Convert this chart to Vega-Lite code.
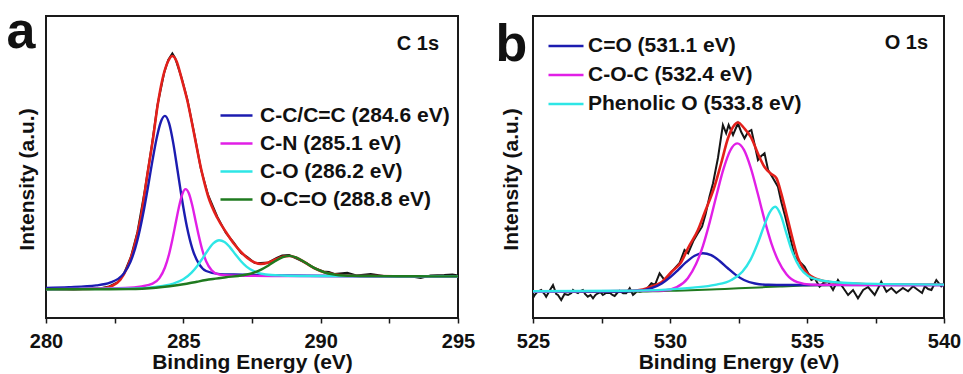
{
  "$schema": "https://vega.github.io/schema/vega-lite/v6.json",
  "background": "white",
  "padding": {"left": 5, "top": 5, "right": 10, "bottom": 5},
  "bounds": "flush",
  "spacing": 75,
  "datasets": {
    "a_raw": [
      {"E":280,"I":28.5},{"E":280.5,"I":29},{"E":281,"I":28.6},{"E":281.5,"I":29.2},{"E":282,"I":29.8},{"E":282.3,"I":31.5},{"E":282.6,"I":35.5},{"E":282.85,"I":45},{"E":283.09,"I":61},{"E":283.33,"I":86},{"E":283.6,"I":128},{"E":283.85,"I":172},{"E":284.06,"I":213},{"E":284.3,"I":245},{"E":284.45,"I":258},{"E":284.6,"I":264.5},{"E":284.7,"I":260},{"E":284.95,"I":239},{"E":285.15,"I":218},{"E":285.4,"I":184},{"E":285.64,"I":149},{"E":285.9,"I":123},{"E":286.24,"I":101},{"E":286.55,"I":85},{"E":286.85,"I":75},{"E":287.1,"I":65},{"E":287.33,"I":61},{"E":287.6,"I":55},{"E":287.82,"I":55},{"E":288.1,"I":55.5},{"E":288.4,"I":60},{"E":288.6,"I":62.5},{"E":288.85,"I":63},{"E":289.2,"I":58.5},{"E":289.5,"I":54.5},{"E":289.76,"I":50},{"E":290.1,"I":46.5},{"E":290.3,"I":46},{"E":290.5,"I":44},{"E":290.97,"I":45.3},{"E":291.3,"I":42.5},{"E":291.82,"I":44},{"E":292.3,"I":42},{"E":292.8,"I":41.5},{"E":293.2,"I":42},{"E":293.64,"I":40},{"E":294,"I":42.5},{"E":294.5,"I":43},{"E":294.8,"I":43.5},{"E":295,"I":42.5}
    ],
    "a_fit": [
      {"E":280,"I":28.7},{"E":281,"I":28.8},{"E":282,"I":29.5},{"E":282.4,"I":32},{"E":282.7,"I":38},{"E":282.95,"I":50},{"E":283.2,"I":70},{"E":283.45,"I":100},{"E":283.7,"I":145},{"E":283.9,"I":180},{"E":284.06,"I":212},{"E":284.25,"I":240},{"E":284.45,"I":257},{"E":284.6,"I":262},{"E":284.75,"I":257},{"E":284.95,"I":238},{"E":285.15,"I":217},{"E":285.4,"I":183},{"E":285.64,"I":150},{"E":285.9,"I":122},{"E":286.24,"I":100},{"E":286.55,"I":86},{"E":286.85,"I":74},{"E":287.1,"I":66},{"E":287.33,"I":60},{"E":287.6,"I":55.5},{"E":287.82,"I":54},{"E":288.1,"I":55.5},{"E":288.4,"I":59},{"E":288.65,"I":61.5},{"E":288.85,"I":62},{"E":289.1,"I":60.5},{"E":289.4,"I":56},{"E":289.76,"I":50},{"E":290.1,"I":46},{"E":290.48,"I":43.7},{"E":291,"I":42.5},{"E":292,"I":41.9},{"E":293,"I":41.7},{"E":294,"I":41.7},{"E":295,"I":41.8}
    ],
    "a_c1": [
      {"E":280,"I":30.1},{"E":280.83,"I":30.8},{"E":281.83,"I":32.6},{"E":282.33,"I":35.3},{"E":282.83,"I":44.4},{"E":283.08,"I":56.4},{"E":283.33,"I":78},{"E":283.53,"I":103.2},{"E":283.73,"I":133.8},{"E":283.88,"I":158.1},{"E":284.03,"I":180},{"E":284.18,"I":196},{"E":284.33,"I":202.1},{"E":284.48,"I":194.8},{"E":284.63,"I":175.4},{"E":284.78,"I":149.3},{"E":284.93,"I":122.2},{"E":285.13,"I":91.2},{"E":285.33,"I":69.1},{"E":285.58,"I":53.6},{"E":285.83,"I":47},{"E":286.33,"I":43.9},{"E":286.83,"I":43.5},{"E":287.83,"I":42.9},{"E":289.5,"I":42.2},{"E":292,"I":41.8},{"E":295,"I":41.7}
    ],
    "a_c2": [
      {"E":280,"I":28.9},{"E":282.88,"I":30.1},{"E":283.48,"I":31.6},{"E":283.88,"I":34.3},{"E":284.13,"I":39.9},{"E":284.33,"I":50.5},{"E":284.48,"I":63.8},{"E":284.6,"I":78.3},{"E":284.72,"I":94.7},{"E":284.84,"I":111.1},{"E":284.96,"I":123.7},{"E":285.08,"I":128.9},{"E":285.2,"I":124.8},{"E":285.32,"I":113.2},{"E":285.44,"I":97.8},{"E":285.56,"I":82.5},{"E":285.68,"I":69},{"E":285.83,"I":56.8},{"E":286.03,"I":47.8},{"E":286.28,"I":43.7},{"E":286.68,"I":42.5},{"E":287.28,"I":42.2},{"E":289,"I":42},{"E":295,"I":41.6}
    ],
    "a_c3": [
      {"E":280,"I":28.8},{"E":283.1,"I":29.4},{"E":284,"I":31.1},{"E":284.6,"I":34.1},{"E":285,"I":38.7},{"E":285.3,"I":45.4},{"E":285.5,"I":51.8},{"E":285.7,"I":59.7},{"E":285.9,"I":68},{"E":286.1,"I":74.8},{"E":286.3,"I":77.8},{"E":286.5,"I":76.1},{"E":286.7,"I":70.6},{"E":286.9,"I":63.5},{"E":287.1,"I":56.8},{"E":287.3,"I":51.4},{"E":287.6,"I":46.3},{"E":288,"I":43.5},{"E":288.6,"I":42.5},{"E":289.5,"I":42},{"E":295,"I":41.6}
    ],
    "a_c4": [
      {"E":280,"I":28.7},{"E":282,"I":28.7},{"E":283,"I":28.9},{"E":283.5,"I":29.3},{"E":284,"I":30.2},{"E":284.5,"I":31.7},{"E":285,"I":33.7},{"E":285.5,"I":36.3},{"E":286,"I":38.7},{"E":286.55,"I":40.7},{"E":287.15,"I":42.7},{"E":287.55,"I":45.2},{"E":287.85,"I":48.7},{"E":288.1,"I":52.5},{"E":288.35,"I":57},{"E":288.6,"I":60.6},{"E":288.85,"I":62.1},{"E":289.1,"I":60.6},{"E":289.35,"I":57},{"E":289.6,"I":52.6},{"E":289.85,"I":48.8},{"E":290.15,"I":45.5},{"E":290.55,"I":43.3},{"E":291.15,"I":42.2},{"E":292.05,"I":41.9},{"E":293.5,"I":41.7},{"E":295,"I":41.6}
    ],
    "b_raw": [
      {"E":525,"I":20},{"E":525.06,"I":23},{"E":525.15,"I":26},{"E":525.3,"I":28},{"E":525.42,"I":24},{"E":525.48,"I":21.3},{"E":525.6,"I":27},{"E":525.73,"I":33},{"E":525.85,"I":24},{"E":525.91,"I":23},{"E":526.03,"I":18},{"E":526.15,"I":24},{"E":526.28,"I":23},{"E":526.4,"I":25},{"E":526.46,"I":28},{"E":526.55,"I":26},{"E":526.64,"I":25},{"E":526.73,"I":27},{"E":526.82,"I":28},{"E":526.9,"I":24},{"E":527,"I":21.3},{"E":527.1,"I":23},{"E":527.19,"I":19.7},{"E":527.28,"I":23},{"E":527.37,"I":24.7},{"E":527.46,"I":26},{"E":527.55,"I":23},{"E":527.67,"I":25},{"E":527.8,"I":25.3},{"E":527.9,"I":23},{"E":527.98,"I":22},{"E":528.07,"I":25},{"E":528.16,"I":27.3},{"E":528.29,"I":24.7},{"E":528.4,"I":24.7},{"E":528.53,"I":29.7},{"E":528.65,"I":23},{"E":528.72,"I":24.7},{"E":528.8,"I":27},{"E":528.9,"I":26.3},{"E":529,"I":27},{"E":529.14,"I":28.7},{"E":529.32,"I":34.7},{"E":529.45,"I":33},{"E":529.62,"I":44.7},{"E":529.8,"I":38},{"E":529.95,"I":42},{"E":530.05,"I":46},{"E":530.17,"I":49.7},{"E":530.35,"I":55},{"E":530.53,"I":68},{"E":530.66,"I":64.7},{"E":530.85,"I":77},{"E":531,"I":84},{"E":531.17,"I":91.3},{"E":531.3,"I":104},{"E":531.44,"I":121.3},{"E":531.57,"I":134.7},{"E":531.75,"I":160},{"E":531.93,"I":193},{"E":532.05,"I":184.7},{"E":532.14,"I":193},{"E":532.3,"I":183},{"E":532.48,"I":194.7},{"E":532.6,"I":186},{"E":532.72,"I":179.7},{"E":532.85,"I":186},{"E":532.97,"I":188},{"E":533.1,"I":172},{"E":533.21,"I":158},{"E":533.33,"I":162},{"E":533.45,"I":164.7},{"E":533.58,"I":148},{"E":533.76,"I":139.7},{"E":533.94,"I":131.3},{"E":534.06,"I":116.3},{"E":534.2,"I":102},{"E":534.35,"I":85},{"E":534.55,"I":61.3},{"E":534.73,"I":56.3},{"E":534.91,"I":51.3},{"E":535.04,"I":44.7},{"E":535.16,"I":38},{"E":535.28,"I":39.7},{"E":535.46,"I":31.3},{"E":535.6,"I":35},{"E":535.77,"I":36.3},{"E":535.95,"I":28},{"E":536.13,"I":38},{"E":536.3,"I":31},{"E":536.5,"I":23},{"E":536.68,"I":28},{"E":536.86,"I":19.7},{"E":537.05,"I":28},{"E":537.23,"I":31},{"E":537.35,"I":27},{"E":537.47,"I":23},{"E":537.6,"I":30},{"E":537.71,"I":36.3},{"E":537.9,"I":26.3},{"E":538.08,"I":30},{"E":538.26,"I":25},{"E":538.5,"I":30},{"E":538.69,"I":26.7},{"E":538.87,"I":31.7},{"E":539.05,"I":28},{"E":539.2,"I":25},{"E":539.3,"I":31.7},{"E":539.42,"I":29},{"E":539.54,"I":28},{"E":539.72,"I":38},{"E":539.9,"I":31.7},{"E":540,"I":34}
    ],
    "b_fit": [
      {"E":525,"I":26.6},{"E":527,"I":26.6},{"E":528.5,"I":27},{"E":529,"I":28.5},{"E":529.3,"I":31.3},{"E":529.7,"I":36},{"E":530.05,"I":46},{"E":530.41,"I":56},{"E":530.66,"I":70},{"E":531.02,"I":88},{"E":531.26,"I":105},{"E":531.63,"I":132},{"E":531.87,"I":155},{"E":532.12,"I":180},{"E":532.3,"I":191},{"E":532.48,"I":195.5},{"E":532.7,"I":190},{"E":532.97,"I":180},{"E":533.2,"I":165},{"E":533.45,"I":151},{"E":533.7,"I":144},{"E":533.88,"I":140},{"E":534.06,"I":124.7},{"E":534.25,"I":104},{"E":534.43,"I":84},{"E":534.67,"I":60},{"E":534.85,"I":50},{"E":535.04,"I":44},{"E":535.3,"I":39.5},{"E":535.6,"I":37},{"E":536,"I":35.5},{"E":537,"I":34},{"E":538,"I":33.5},{"E":540,"I":33.2}
    ],
    "b_bg": [
      {"E":525,"I":26.3},{"E":529,"I":26.5},{"E":529.5,"I":26.8},{"E":530,"I":27.2},{"E":530.5,"I":27.6},{"E":531,"I":28.1},{"E":531.5,"I":28.6},{"E":532,"I":29.1},{"E":532.5,"I":29.7},{"E":533,"I":30.3},{"E":533.5,"I":30.9},{"E":534,"I":31.5},{"E":534.5,"I":32.1},{"E":535,"I":32.5},{"E":535.5,"I":32.8},{"E":536,"I":33},{"E":540,"I":33}
    ],
    "b_c1": [
      {"E":525,"I":26.4},{"E":528.2,"I":26.5},{"E":528.8,"I":27.2},{"E":529.3,"I":29.6},{"E":529.7,"I":34.6},{"E":530,"I":40.7},{"E":530.3,"I":48.2},{"E":530.6,"I":56.1},{"E":530.9,"I":62.3},{"E":531.2,"I":64.8},{"E":531.5,"I":62.9},{"E":531.8,"I":57.3},{"E":532.1,"I":50},{"E":532.4,"I":43.1},{"E":532.7,"I":38},{"E":533.1,"I":34.5},{"E":533.6,"I":33.2},{"E":534.2,"I":33},{"E":535,"I":33},{"E":540,"I":33}
    ],
    "b_c2": [
      {"E":525,"I":26.4},{"E":529.75,"I":27.4},{"E":530.25,"I":30.9},{"E":530.65,"I":39.8},{"E":530.95,"I":53.9},{"E":531.2,"I":71.9},{"E":531.45,"I":95.9},{"E":531.7,"I":123},{"E":531.95,"I":148.8},{"E":532.2,"I":167.5},{"E":532.45,"I":174.6},{"E":532.7,"I":168.1},{"E":532.95,"I":149.9},{"E":533.2,"I":124.7},{"E":533.45,"I":98.1},{"E":533.7,"I":74.7},{"E":533.95,"I":57.2},{"E":534.25,"I":43.8},{"E":534.65,"I":35.8},{"E":535.15,"I":33.4},{"E":536,"I":33.1},{"E":540,"I":33}
    ],
    "b_c3": [
      {"E":525,"I":26.8},{"E":528.34,"I":27.3},{"E":529.84,"I":28.4},{"E":530.84,"I":30.4},{"E":531.64,"I":33.1},{"E":532.24,"I":38},{"E":532.64,"I":46.3},{"E":532.94,"I":58.4},{"E":533.24,"I":77.5},{"E":533.44,"I":92.6},{"E":533.64,"I":105.7},{"E":533.84,"I":111.3},{"E":534.04,"I":103.1},{"E":534.24,"I":85.4},{"E":534.44,"I":67.9},{"E":534.74,"I":50.4},{"E":535.04,"I":42},{"E":535.44,"I":38},{"E":536.04,"I":35.8},{"E":536.84,"I":34.6},{"E":537.84,"I":33.9},{"E":540,"I":33.4}
    ]
  },
  "hconcat": [
    {
      "width": 412,
      "height": 302,
      "layer": [
        {
          "data": {"name": "a_raw"},
          "mark": {"type": "line", "color": "#161616", "strokeWidth": 2},
          "encoding": {
            "x": {"field": "E", "type": "quantitative", "scale": {"domain": [280, 295], "nice": false, "zero": false},
              "axis": {"title": "Binding Energy (eV)", "values": [280, 282.5, 285, 287.5, 290, 292.5, 295], "labelExpr": "datum.value % 5 === 0 ? format(datum.value, 'd') : ''", "tickSize": 5, "labelPadding": 8, "titlePadding": 0, "labelFlush": false, "labelOverlap": false}},
            "y": {"field": "I", "type": "quantitative", "scale": {"domain": [0, 302], "nice": false, "zero": false},
              "axis": {"title": "Intensity (a.u.)", "labels": false, "ticks": false, "titlePadding": 9, "titleY": 163}}
          }
        },
        {
          "data": {"name": "a_fit"},
          "mark": {"type": "line", "color": "#e3201b", "strokeWidth": 2.6, "interpolate": "monotone"},
          "encoding": {"x": {"field": "E", "type": "quantitative"}, "y": {"field": "I", "type": "quantitative"}}
        },
        {
          "data": {"name": "a_c1"},
          "mark": {"type": "line", "strokeWidth": 2.4, "interpolate": "monotone"},
          "encoding": {
            "x": {"field": "E", "type": "quantitative"}, "y": {"field": "I", "type": "quantitative"},
            "color": {"datum": "C-C/C=C (284.6 eV)", "type": "nominal",
              "scale": {"domain": ["C-C/C=C (284.6 eV)", "C-N (285.1 eV)", "C-O (286.2 eV)", "O-C=O (288.8 eV)"], "range": ["#1c1cb0", "#e11fe6", "#2ee6e6", "#1f7a1f"]},
              "legend": {"orient": "none", "legendX": 173, "legendY": 82, "title": null, "symbolType": "stroke", "symbolSize": 1024, "symbolStrokeWidth": 2.6, "labelFont": "Liberation Sans", "labelFontSize": 21, "labelFontWeight": "bold", "labelColor": "#111", "labelOffset": 6, "rowPadding": 0, "padding": 0, "labelLimit": 400}}
          }
        },
        {
          "data": {"name": "a_c2"},
          "mark": {"type": "line", "strokeWidth": 2.4, "interpolate": "monotone"},
          "encoding": {"x": {"field": "E", "type": "quantitative"}, "y": {"field": "I", "type": "quantitative"}, "color": {"datum": "C-N (285.1 eV)", "type": "nominal"}}
        },
        {
          "data": {"name": "a_c3"},
          "mark": {"type": "line", "strokeWidth": 2.4, "interpolate": "monotone"},
          "encoding": {"x": {"field": "E", "type": "quantitative"}, "y": {"field": "I", "type": "quantitative"}, "color": {"datum": "C-O (286.2 eV)", "type": "nominal"}}
        },
        {
          "data": {"name": "a_c4"},
          "mark": {"type": "line", "strokeWidth": 2.4, "interpolate": "monotone"},
          "encoding": {"x": {"field": "E", "type": "quantitative"}, "y": {"field": "I", "type": "quantitative"}, "color": {"datum": "O-C=O (288.8 eV)", "type": "nominal"}}
        },
        {
          "data": {"values": [{}]},
          "mark": {"type": "text", "text": "a", "fontSize": 52, "fontWeight": "bold", "align": "center", "baseline": "alphabetic", "color": "#111"},
          "encoding": {"x": {"datum": 279.09, "type": "quantitative"}, "y": {"datum": 269.7, "type": "quantitative"}}
        },
        {
          "data": {"values": [{}]},
          "mark": {"type": "text", "text": "C 1s", "fontSize": 20, "fontWeight": "bold", "align": "right", "baseline": "alphabetic", "color": "#111"},
          "encoding": {"x": {"datum": 294.31, "type": "quantitative"}, "y": {"datum": 268.5, "type": "quantitative"}}
        }
      ]
    },
    {
      "width": 411,
      "height": 302,
      "layer": [
        {
          "data": {"name": "b_raw"},
          "mark": {"type": "line", "color": "#161616", "strokeWidth": 2},
          "encoding": {
            "x": {"field": "E", "type": "quantitative", "scale": {"domain": [525, 540], "nice": false, "zero": false},
              "axis": {"title": "Binding Energy (eV)", "values": [525, 527.5, 530, 532.5, 535, 537.5, 540], "labelExpr": "datum.value % 5 === 0 ? format(datum.value, 'd') : ''", "tickSize": 5, "labelPadding": 8, "titlePadding": 0, "labelFlush": false, "labelOverlap": false}},
            "y": {"field": "I", "type": "quantitative", "scale": {"domain": [0, 302], "nice": false, "zero": false},
              "axis": {"title": "Intensity (a.u.)", "labels": false, "ticks": false, "titlePadding": 12, "titleY": 163}}
          }
        },
        {
          "data": {"name": "b_fit"},
          "mark": {"type": "line", "color": "#e3201b", "strokeWidth": 2.6, "interpolate": "monotone"},
          "encoding": {"x": {"field": "E", "type": "quantitative"}, "y": {"field": "I", "type": "quantitative"}}
        },
        {
          "data": {"name": "b_bg"},
          "mark": {"type": "line", "color": "#1f7a1f", "strokeWidth": 2, "interpolate": "monotone"},
          "encoding": {"x": {"field": "E", "type": "quantitative"}, "y": {"field": "I", "type": "quantitative"}}
        },
        {
          "data": {"name": "b_c1"},
          "mark": {"type": "line", "strokeWidth": 2.4, "interpolate": "monotone"},
          "encoding": {
            "x": {"field": "E", "type": "quantitative"}, "y": {"field": "I", "type": "quantitative"},
            "color": {"datum": "C=O (531.1 eV)", "type": "nominal",
              "scale": {"domain": ["C=O (531.1 eV)", "C-O-C (532.4 eV)", "Phenolic O (533.8 eV)"], "range": ["#1c1cb0", "#e11fe6", "#2ee6e6"]},
              "legend": {"orient": "none", "legendX": 14, "legendY": 11, "title": null, "symbolType": "stroke", "symbolSize": 1225, "symbolStrokeWidth": 2.6, "labelFont": "Liberation Sans", "labelFontSize": 21, "labelFontWeight": "bold", "labelColor": "#111", "labelOffset": 3, "rowPadding": 0, "padding": 0, "labelLimit": 400}}
          }
        },
        {
          "data": {"name": "b_c2"},
          "mark": {"type": "line", "strokeWidth": 2.4, "interpolate": "monotone"},
          "encoding": {"x": {"field": "E", "type": "quantitative"}, "y": {"field": "I", "type": "quantitative"}, "color": {"datum": "C-O-C (532.4 eV)", "type": "nominal"}}
        },
        {
          "data": {"name": "b_c3"},
          "mark": {"type": "line", "strokeWidth": 2.4, "interpolate": "monotone"},
          "encoding": {"x": {"field": "E", "type": "quantitative"}, "y": {"field": "I", "type": "quantitative"}, "color": {"datum": "Phenolic O (533.8 eV)", "type": "nominal"}}
        },
        {
          "data": {"values": [{}]},
          "mark": {"type": "text", "text": "b", "fontSize": 52, "fontWeight": "bold", "align": "center", "baseline": "alphabetic", "color": "#111"},
          "encoding": {"x": {"datum": 524.21, "type": "quantitative"}, "y": {"datum": 257, "type": "quantitative"}}
        },
        {
          "data": {"values": [{}]},
          "mark": {"type": "text", "text": "O 1s", "fontSize": 20, "fontWeight": "bold", "align": "right", "baseline": "alphabetic", "color": "#111"},
          "encoding": {"x": {"datum": 539.42, "type": "quantitative"}, "y": {"datum": 268.7, "type": "quantitative"}}
        }
      ]
    }
  ],
  "resolve": {"scale": {"color": "independent", "x": "independent", "y": "independent"}, "legend": {"color": "independent"}},
  "config": {
    "font": "Liberation Sans",
    "view": {"stroke": "#1a1a1a", "strokeWidth": 2},
    "axis": {"grid": false, "domain": false, "labelFont": "Liberation Sans", "labelFontSize": 20, "labelFontWeight": "bold", "labelColor": "#111", "titleFont": "Liberation Sans", "titleFontSize": 21, "titleFontWeight": "bold", "titleColor": "#111", "tickColor": "#1a1a1a", "tickWidth": 1.5},
    "text": {"font": "Liberation Sans"}
  }
}
